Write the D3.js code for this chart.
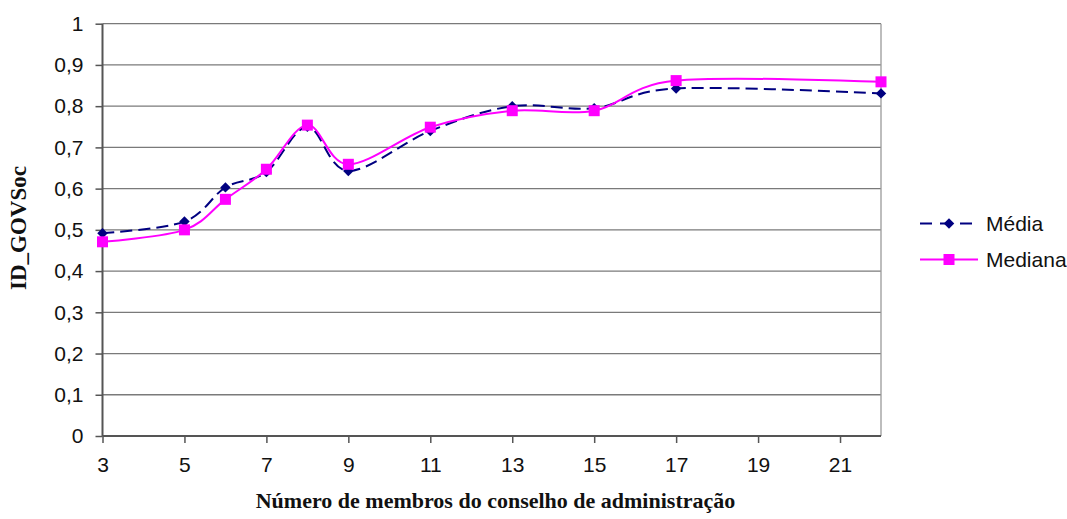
<!DOCTYPE html>
<html><head><meta charset="utf-8">
<script src="https://cdn.jsdelivr.net/npm/d3@7"></script>
<style>body{margin:0;background:#fff}svg{display:block}
.tick text{font-family:"Liberation Sans",Arial,sans-serif;font-size:21px;fill:#111}</style>
</head><body><svg id="c" width="1067" height="519"></svg>
<script>
const xValues = [3, 5, 6, 7, 8, 9, 11, 13, 15, 17, 22];
const media   = [0.492, 0.520, 0.603, 0.640, 0.750, 0.643, 0.740, 0.800, 0.795, 0.843, 0.831];
const mediana = [0.471, 0.500, 0.574, 0.647, 0.754, 0.659, 0.749, 0.789, 0.789, 0.862, 0.859];
const xTicks = [3, 5, 7, 9, 11, 13, 15, 17, 19, 21];
const yTicks = [0, 0.1, 0.2, 0.3, 0.4, 0.5, 0.6, 0.7, 0.8, 0.9, 1];
const seriesNames = ["Média", "Mediana"];

const svg = d3.select("#c");
const x = d3.scaleLinear().domain([3, 22]).range([102.5, 881]);
const y = d3.scaleLinear().domain([0, 1]).range([436, 23.7]);
const fmt = v => String(+v.toFixed(1)).replace(".", ",");

// gridlines
svg.append("g").selectAll("line").data(yTicks.filter(d => d > 0)).join("line")
  .attr("x1", x(3)).attr("x2", x(22)).attr("y1", d => y(d)).attr("y2", d => y(d))
  .attr("stroke", "#7a7a7a").attr("stroke-width", 1.3);
// right border
svg.append("line").attr("x1", x(22)).attr("x2", x(22)).attr("y1", y(1)).attr("y2", y(0))
  .attr("stroke", "#9a9a9a").attr("stroke-width", 1.3);

const yAxis = svg.append("g").attr("transform", `translate(${x(3)},0)`)
  .call(d3.axisLeft(y).tickValues(yTicks).tickFormat(fmt).tickSize(7).tickPadding(12));
const xAxis = svg.append("g").attr("transform", `translate(0,${y(0)})`)
  .call(d3.axisBottom(x).tickValues(xTicks).tickFormat(d3.format("d")).tickSize(7).tickPadding(14));
[yAxis, xAxis].forEach(a => {
  a.attr("font-size", null).attr("font-family", null);
  a.select(".domain").attr("stroke", "#555").attr("stroke-width", 2);
  a.selectAll(".tick line").attr("stroke", "#555").attr("stroke-width", 1.5);
});
xAxis.select(".domain").attr("d", `M${x(3)},0H${x(22)}`);
yAxis.select(".domain").attr("d", `M0,${y(0)}V${y(1)}`);

const line = d3.line().x(d => x(d[0])).y(d => y(d[1])).curve(d3.curveCatmullRom.alpha(0));
const mData = xValues.map((v, i) => [v, media[i]]);
const dData = xValues.map((v, i) => [v, mediana[i]]);

svg.append("path").datum(mData).attr("d", line).attr("fill", "none")
  .attr("stroke", "#000080").attr("stroke-width", 2).attr("stroke-dasharray", "12,6");
svg.append("path").datum(dData).attr("d", line).attr("fill", "none")
  .attr("stroke", "#ff00ff").attr("stroke-width", 2);

const diamond = d3.symbol().type(d3.symbolDiamond2).size(70);
svg.append("g").selectAll("path").data(mData).join("path")
  .attr("d", diamond).attr("transform", d => `translate(${x(d[0])},${y(d[1])})`)
  .attr("fill", "#000080");
svg.append("g").selectAll("rect").data(dData).join("rect")
  .attr("x", d => x(d[0]) - 5.5).attr("y", d => y(d[1]) - 5.5)
  .attr("width", 11).attr("height", 11).attr("fill", "#ff00ff");

// legend
const leg = svg.append("g");
const ly = [223.5, 259.5];
leg.append("line").attr("x1", 920).attr("x2", 978).attr("y1", ly[0]).attr("y2", ly[0])
  .attr("stroke", "#000080").attr("stroke-width", 2).attr("stroke-dasharray", "12,8");
leg.append("path").attr("d", diamond).attr("transform", `translate(949,${ly[0]})`).attr("fill", "#000080");
leg.append("line").attr("x1", 920).attr("x2", 978).attr("y1", ly[1]).attr("y2", ly[1])
  .attr("stroke", "#ff00ff").attr("stroke-width", 2);
leg.append("rect").attr("x", 943.5).attr("y", ly[1] - 5.5).attr("width", 11).attr("height", 11).attr("fill", "#ff00ff");
leg.selectAll("text").data(seriesNames).join("text")
  .attr("x", 986).attr("y", (d, i) => ly[i] + 7).text(d => d)
  .attr("font-family", "Liberation Sans, Arial, sans-serif").attr("font-size", 21).attr("fill", "#111");

// axis titles
svg.append("text").attr("x", 495.5).attr("y", 508).attr("text-anchor", "middle")
  .attr("font-family", "Liberation Serif, Times New Roman, serif").attr("font-weight", "bold")
  .attr("font-size", 22).attr("fill", "#111").text("Número de membros do conselho de administração");
svg.append("text").attr("transform", "translate(25.5,228) rotate(-90)").attr("text-anchor", "middle")
  .attr("font-family", "Liberation Serif, Times New Roman, serif").attr("font-weight", "bold")
  .attr("font-size", 23).attr("fill", "#111").text("ID_GOVSoc");
</script></body></html>
